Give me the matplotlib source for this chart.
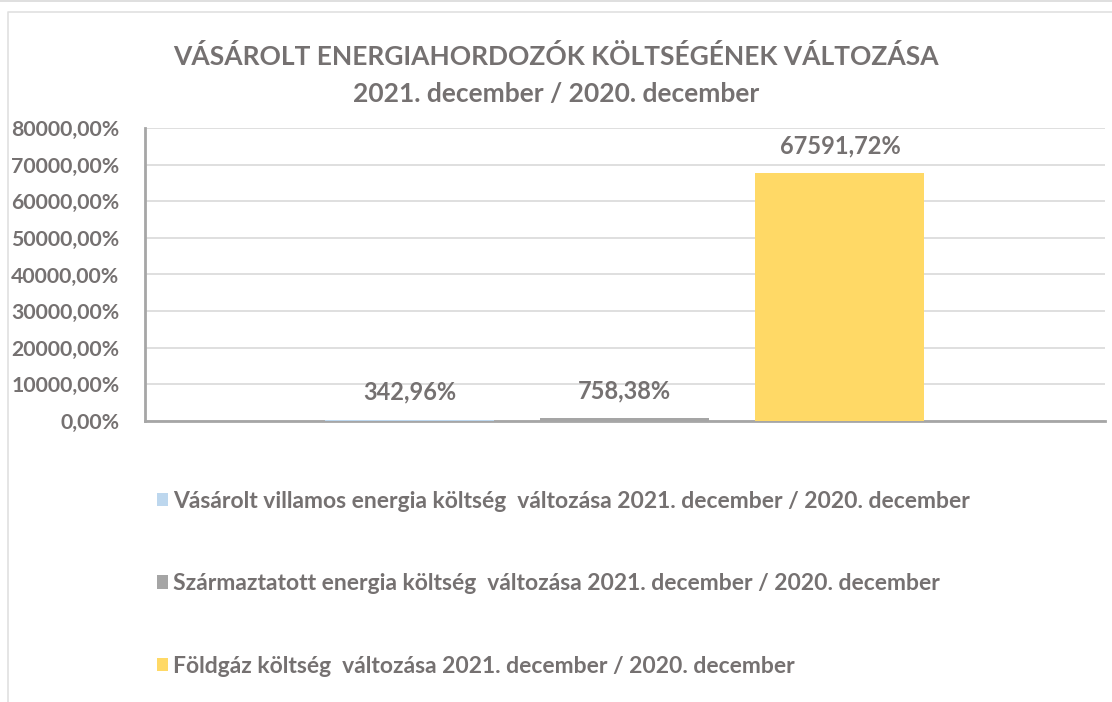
import matplotlib.pyplot as plt
from matplotlib.lines import Line2D
from matplotlib.ticker import FuncFormatter

plt.rcParams['font.family'] = ['Lato', 'DejaVu Sans']

title = 'VÁSÁROLT ENERGIAHORDOZÓK KÖLTSÉGÉNEK VÁLTOZÁSA\n2021. december / 2020. december'
series = ['Vásárolt villamos energia költség  változása 2021. december / 2020. december',
          'Származtatott energia költség  változása 2021. december / 2020. december',
          'Földgáz költség  változása 2021. december / 2020. december']
values = [342.96, 758.38, 67591.72]
colors = ['#BDD7EE', '#A5A5A5', '#FFD966']
yticks = [0, 10000, 20000, 30000, 40000, 50000, 60000, 70000, 80000]

txt = '#757171'


def pct(v):
    return '{:.2f}%'.format(v).replace('.', ',')


fig = plt.figure(figsize=(11.12, 7.02), dpi=100)
ax = fig.add_axes([0.130, 0.4003, 0.8637, 0.4174])

offsets = [-0.224, 0, 0.224]
for off, v, c, name in zip(offsets, values, colors, series):
    ax.bar(off, v, width=0.176, color=c, label=name, zorder=3)
    ax.annotate(pct(v), (off, v), xytext=(0, 20), textcoords='offset points',
                ha='center', va='center', fontsize=17, fontweight='bold', color=txt)

ax.set_xlim(-0.5, 0.5)
ax.set_ylim(0, 80000)
ax.set_yticks(yticks)
ax.yaxis.set_major_formatter(FuncFormatter(lambda v, p: pct(v)))
ax.set_xticks([])
ax.tick_params(axis='y', length=0, pad=18, labelsize=15.3, labelcolor=txt)
for lab in ax.get_yticklabels():
    lab.set_fontweight('bold')
ax.grid(axis='y', color='#D9D9D9', linewidth=1.2, zorder=0)
for s in ['top', 'right']:
    ax.spines[s].set_visible(False)
ax.spines['left'].set_color('#A6A6A6')
ax.spines['left'].set_linewidth(2)
ax.spines['bottom'].set_color('#A6A6A6')
ax.spines['bottom'].set_linewidth(2)

fig.text(0.5, 0.893, title, ha='center', va='center', fontsize=19, fontweight='bold',
         color=txt, linespacing=1.68)

leg = ax.legend(loc='upper left', bbox_to_anchor=(0.141, 0.301), bbox_transform=fig.transFigure,
                frameon=False, fontsize=16.5, handlelength=0.5, handleheight=0.55, handletextpad=0.22,
                labelspacing=2.68, borderpad=0, borderaxespad=0)
for t in leg.get_texts():
    t.set_color(txt)
    t.set_fontweight('bold')

# outer frame lines
fig.add_artist(Line2D([0, 1], [0.998, 0.998], transform=fig.transFigure, color='#D9D9D9', lw=1.2))
fig.add_artist(Line2D([0.007, 0.007, 1], [0, 0.983, 0.983], transform=fig.transFigure, color='#E0E0E0', lw=1.2))

fig.savefig('out.png', dpi=100)
